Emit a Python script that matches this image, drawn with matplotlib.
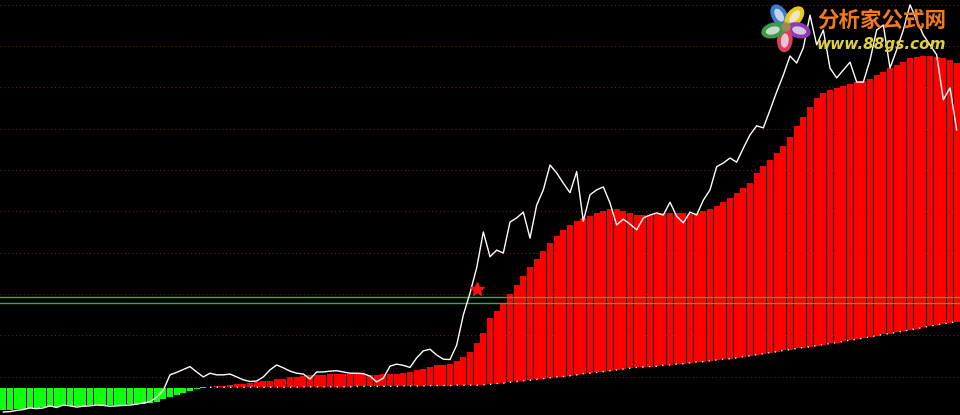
import matplotlib
matplotlib.use("Agg")
import matplotlib.pyplot as plt
from matplotlib.patches import Ellipse, Circle
import numpy as np

# bar tops (upper curve)
upper = [3.19, 3.19, 3.21, 3.21, 3.24, 3.24, 3.26, 3.26, 3.26, 3.29,
         3.29, 3.29, 3.29, 3.31, 3.31, 3.31, 3.31, 3.31, 3.31, 3.33,
         3.33, 3.33, 3.36, 3.38, 3.46, 3.50, 3.55, 3.60, 3.65, 3.70,
         3.73, 3.75, 3.77, 3.78, 3.79, 3.81, 3.82, 3.84, 3.87, 3.88,
         3.90, 3.93, 3.95, 3.98, 4.00, 4.02, 4.04, 4.04, 4.04, 4.05,
         4.05, 4.05, 4.05, 4.05, 4.05, 4.04, 4.04, 4.05, 4.06, 4.07,
         4.08, 4.11, 4.16, 4.19, 4.24, 4.28, 4.29, 4.31, 4.38, 4.47,
         4.59, 4.81, 5.05, 5.41, 5.58, 5.78, 6.00, 6.22, 6.43, 6.65,
         6.85, 7.04, 7.23, 7.40, 7.55, 7.67, 7.77, 7.84, 7.89, 7.96,
         8.01, 8.05, 8.05, 8.01, 7.96, 7.92, 7.91, 7.91, 7.93, 7.96,
         7.97, 7.96, 7.95, 7.93, 7.96, 8.01, 8.06, 8.13, 8.23, 8.32,
         8.44, 8.56, 8.68, 8.93, 9.10, 9.24, 9.41, 9.58, 9.80, 10.07,
         10.28, 10.53, 10.75, 10.87, 10.94, 10.99, 11.03, 11.08, 11.12, 11.15,
         11.21, 11.30, 11.37, 11.46, 11.54, 11.61, 11.70, 11.73, 11.75, 11.75,
         11.74, 11.71, 11.66, 11.59]

# lower line
lower = [3.73] * 30 + [
         3.74, 3.74, 3.74, 3.74, 3.74, 3.74, 3.74, 3.74, 3.74, 3.74,
         3.74, 3.74, 3.74, 3.74, 3.74, 3.75, 3.75, 3.75, 3.75, 3.75,
         3.75, 3.75, 3.75, 3.76, 3.76, 3.76, 3.76, 3.76, 3.76, 3.76,
         3.77, 3.77, 3.77, 3.77, 3.78, 3.78, 3.78, 3.78, 3.79, 3.79,
         3.79, 3.79, 3.80, 3.81, 3.83, 3.84, 3.86, 3.88, 3.90, 3.91,
         3.93, 3.95, 3.97, 3.99, 4.00, 4.02, 4.04, 4.07, 4.08, 4.10,
         4.12, 4.14, 4.16, 4.18, 4.20, 4.22, 4.23, 4.24, 4.25, 4.27,
         4.28, 4.30, 4.31, 4.33, 4.35, 4.36, 4.38, 4.40, 4.42, 4.43,
         4.45, 4.48, 4.50, 4.53, 4.55, 4.58, 4.60, 4.63, 4.65, 4.68,
         4.70, 4.72, 4.75, 4.77, 4.80, 4.82, 4.85, 4.88, 4.90, 4.93,
         4.96, 4.99, 5.02, 5.04, 5.07, 5.10, 5.13, 5.16, 5.19, 5.22,
         5.25, 5.28, 5.30, 5.33]

# price (white line)
price = [3.14, 3.15, 3.18, 3.20, 3.24, 3.22, 3.24, 3.29, 3.25, 3.31,
         3.29, 3.26, 3.28, 3.29, 3.31, 3.30, 3.28, 3.29, 3.30, 3.31,
         3.33, 3.36, 3.39, 3.50, 3.67, 4.04, 4.10, 4.17, 4.24, 4.11,
         3.99, 4.08, 4.04, 4.04, 4.06, 3.99, 3.92, 3.88, 3.89, 3.99,
         4.16, 4.28, 4.21, 4.13, 4.08, 4.06, 3.94, 4.11, 4.11, 4.13,
         4.14, 4.11, 4.08, 4.08, 4.07, 4.01, 3.87, 3.96, 4.25, 4.30,
         4.27, 4.22, 4.45, 4.62, 4.66, 4.52, 4.42, 4.41, 4.76, 5.49,
         6.02, 6.63, 7.50, 6.90, 7.06, 6.99, 7.74, 7.84, 7.98, 7.35,
         8.15, 8.52, 9.12, 8.93, 8.68, 8.45, 8.96, 7.76, 8.40, 8.52,
         8.59, 8.20, 7.67, 7.81, 7.69, 7.55, 7.84, 7.91, 7.96, 7.91,
         8.22, 7.88, 7.72, 7.98, 7.91, 8.27, 8.52, 9.08, 9.17, 9.29,
         9.19, 9.53, 9.85, 10.07, 10.02, 10.45, 10.89, 11.30, 11.76, 11.59,
         11.96, 12.75, 12.03, 12.39, 11.47, 11.23, 11.42, 11.61, 11.13, 11.13,
         11.66, 12.39, 12.51, 11.47, 11.91, 12.39, 13.00, 12.63, 12.27, 12.03,
         11.79, 10.70, 10.99, 9.97]

star_idx = 71
star_val = 6.11
hlines = [5.92, 5.77]
grid_vals = [4, 5, 6, 7, 8, 9, 10, 11, 12, 13]

up = np.array(upper)
lo = np.array(lower)
n = len(up)
x = np.arange(n)

fig = plt.figure(figsize=(9.6, 4.15), dpi=100, facecolor="black")
ax = fig.add_axes([0, 0, 1, 1])
ax.set_facecolor("black")

for g in grid_vals:
    ax.axhline(g, color="#6a1c1c", lw=0.8, ls=(0, (1, 2.5)), zorder=1)

red = up >= lo
ax.bar(x[red], (up - lo)[red], bottom=lo[red], width=0.88, color="#ff0000",
       linewidth=0, zorder=2)
ax.bar(x[~red], (lo - up)[~red], bottom=up[~red], width=0.88, color="#10ff10",
       linewidth=0, zorder=2)

# dotted lower line under the red bars
ax.plot(x[red], lo[red], color="white", lw=1, ls=(0, (1, 3.8)), zorder=3)

for h in hlines:
    ax.axhline(h, color="#3caa3c", lw=1, zorder=4)

ax.plot(x, price, color="white", lw=1, zorder=5)
ax.plot([star_idx], [star_val], marker="*", color="#ff1010", markersize=10, zorder=6)

ax.set_xlim(-0.5, n - 0.5)
ax.set_ylim(3.068, 13.116)
ax.axis("off")

# logo: flower
lax = fig.add_axes([760 / 960, 1 - 53 / 415, 52 / 960, 52 / 415])
lax.set_xlim(-1, 1)
lax.set_ylim(-1, 1)
lax.set_aspect("equal")
lax.axis("off")
petals = [("#3a7ad0", 120), ("#e8c820", 50), ("#8a3cb8", -15), ("#d84060", -95), ("#3c9a48", 195)]
for col, ang in petals:
    a = np.deg2rad(ang)
    cx, cy = 0.5 * np.cos(a), 0.5 * np.sin(a)
    lax.add_patch(Ellipse((cx, cy), 0.95, 0.6, angle=ang, facecolor=col, edgecolor="none"))
    lax.add_patch(Ellipse((cx * 1.05, cy * 1.05), 0.55, 0.3, angle=ang,
                          facecolor="#f4f0f4", edgecolor="none", alpha=0.75))
lax.add_patch(Circle((0, 0), 0.18, facecolor="#9a8a50", edgecolor="none"))

fig.text(817 / 960, 1 - 20 / 415, "分析家公式网", color="#f07a20", fontsize=15.5,
         fontweight="bold", family=["Noto Sans CJK SC", "DejaVu Sans"],
         ha="left", va="center", zorder=12)
fig.text(817 / 960, 1 - 44 / 415, "www.88gs.com", color="#e0d040", fontsize=11,
         fontweight="bold", fontstyle="italic", family="DejaVu Sans",
         ha="left", va="center", zorder=12)

fig.savefig("out.png", dpi=100, facecolor="black")
